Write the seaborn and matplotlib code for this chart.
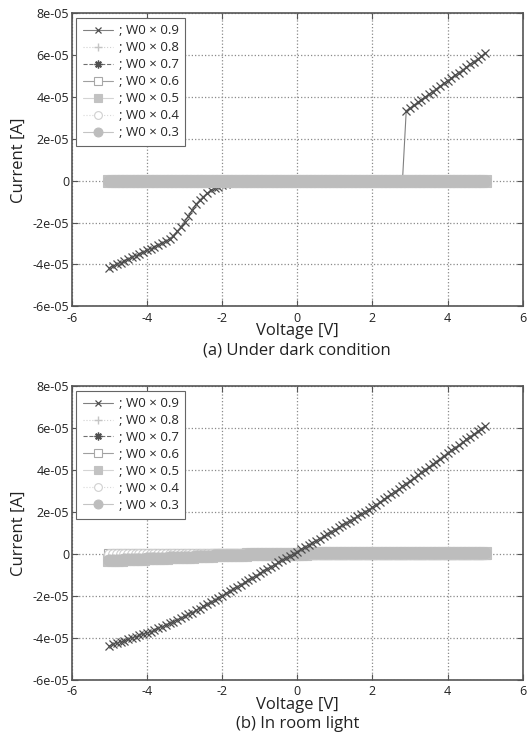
import numpy as np
import matplotlib
matplotlib.use("Agg")
import matplotlib.pyplot as plt
import seaborn as sns

# voltage sweep, -5 V .. 5 V in 0.1 V steps
voltage = np.round(np.arange(-50, 51) / 10.0, 1)

# currents in units of 1e-5 A
# (a) dark: W0 x 0.9 curve
dark_w09 = [
    -4.15, -4.07, -3.99, -3.91, -3.83, -3.75, -3.66, -3.58, -3.50, -3.42,
    -3.33, -3.25, -3.16, -3.07, -2.98, -2.89, -2.79, -2.62, -2.42, -2.20,
    -1.96, -1.71, -1.40, -1.13, -0.93, -0.76, -0.60, -0.46, -0.36, -0.28,
    -0.22, -0.14, -0.09, -0.05, -0.03, -0.01,
    0.0, 0.0, 0.0, 0.0, 0.0, 0.0, 0.0, 0.0, 0.0, 0.0,
    0.0, 0.0, 0.0, 0.0, 0.0, 0.0, 0.0, 0.0, 0.0, 0.0,
    0.0, 0.0, 0.0, 0.0, 0.0, 0.0, 0.0, 0.0, 0.0, 0.0,
    0.0, 0.0, 0.0, 0.0, 0.0, 0.0, 0.0, 0.0, 0.0, 0.0,
    0.0, 0.0, 0.0,
    3.35, 3.48, 3.61, 3.74, 3.87, 4.00, 4.13, 4.26, 4.39, 4.52,
    4.65, 4.78, 4.91, 5.04, 5.17, 5.30, 5.43, 5.56, 5.69, 5.82,
    5.95, 6.08,
]
dark_flat = [0.0] * len(voltage)

# (b) room light: W0 x 0.9 curve
light_w09 = [
    -4.38, -4.32, -4.26, -4.20, -4.14, -4.08, -4.02, -3.95, -3.88, -3.83,
    -3.78, -3.71, -3.63, -3.55, -3.47, -3.39, -3.31, -3.23, -3.15, -3.07,
    -2.98, -2.89, -2.80, -2.70, -2.61, -2.51, -2.41, -2.31, -2.21, -2.11,
    -2.00, -1.89, -1.79, -1.68, -1.57, -1.47, -1.36, -1.25, -1.15, -1.04,
    -0.93, -0.83, -0.72, -0.62, -0.51, -0.41, -0.31, -0.20, -0.10, 0.00,
    0.10,
    0.21, 0.31, 0.42, 0.52, 0.63, 0.73, 0.84, 0.94, 1.05, 1.15,
    1.26, 1.36, 1.47, 1.58, 1.68, 1.79, 1.90, 2.00, 2.11, 2.22,
    2.34, 2.46, 2.59, 2.71, 2.84, 2.97, 3.09, 3.22, 3.35, 3.48,
    3.61, 3.74, 3.88, 4.01, 4.14, 4.27, 4.40, 4.54, 4.67, 4.80,
    4.93, 5.06, 5.19, 5.32, 5.45, 5.58, 5.71, 5.84, 5.97, 6.10,
]
# (b) room light: filled grey markers (W0 x 0.5, 0.3), slight slope
light_small = [
    -0.30, -0.29, -0.28, -0.28, -0.27, -0.26, -0.25, -0.24, -0.24, -0.23,
    -0.22, -0.21, -0.20, -0.20, -0.19, -0.18, -0.17, -0.16, -0.16, -0.15,
    -0.14, -0.13, -0.13, -0.12, -0.11, -0.10, -0.10, -0.09, -0.08, -0.08,
    -0.07, -0.06, -0.06, -0.05, -0.05, -0.04, -0.04, -0.03, -0.03, -0.02,
    -0.02, -0.02, -0.01, -0.01, -0.01, 0.00, 0.00, 0.00, 0.01, 0.01,
    0.01,
    0.01, 0.01, 0.02, 0.02, 0.02, 0.02, 0.02, 0.03, 0.03, 0.03,
    0.03, 0.03, 0.03, 0.03, 0.03, 0.04, 0.04, 0.04, 0.04, 0.04,
    0.04, 0.04, 0.04, 0.04, 0.04, 0.04, 0.04, 0.04, 0.04, 0.04,
    0.04, 0.04, 0.04, 0.04, 0.04, 0.04, 0.04, 0.04, 0.04, 0.04,
    0.04, 0.04, 0.04, 0.04, 0.04, 0.04, 0.04, 0.04, 0.04, 0.04,
]

widths = ["0.9", "0.8", "0.7", "0.6", "0.5", "0.4", "0.3"]
panel_a = {"0.9": dark_w09, "0.8": dark_flat, "0.7": dark_flat, "0.6": dark_flat,
           "0.5": dark_flat, "0.4": dark_flat, "0.3": dark_flat}
panel_b = {"0.9": light_w09, "0.8": dark_flat, "0.7": dark_flat, "0.6": dark_flat,
           "0.5": light_small, "0.4": dark_flat, "0.3": light_small}

x_ticks = [-6, -4, -2, 0, 2, 4, 6]
y_ticks = [-6e-05, -4e-05, -2e-05, 0, 2e-05, 4e-05, 6e-05, 8e-05]
y_tick_labels = ["-6e-05", "-4e-05", "-2e-05", "0", "2e-05", "4e-05", "6e-05", "8e-05"]

styles = {
    "0.9": dict(color="#808080", ls="-", marker="x", mfc="none", mec="#4d4d4d", ms=6, mew=0.9),
    "0.8": dict(color="#d0d0d0", ls=":", marker="+", mfc="none", mec="#c4c4c4", ms=7, mew=1.0),
    "0.7": dict(color="#707070", ls="--", marker=(8, 2, 0), mfc="none", mec="#505050", ms=7, mew=1.0),
    "0.6": dict(color="#a0a0a0", ls="-", marker="s", mfc="white", mec="#a8a8a8", ms=7, mew=0.8),
    "0.5": dict(color="#d4d4d4", ls="-", marker="s", mfc="#c2c2c2", mec="#c2c2c2", ms=8, mew=0.8),
    "0.4": dict(color="#d8d8d8", ls=":", marker="o", mfc="white", mec="#d0d0d0", ms=7, mew=0.8),
    "0.3": dict(color="#c4c4c4", ls="-", marker="o", mfc="#bdbdbd", mec="#bdbdbd", ms=8, mew=0.8),
}

sns.set_style("ticks")
plt.rcParams["font.family"] = ["Open Sans", "DejaVu Sans"]

fig = plt.figure(figsize=(5.28, 7.38), dpi=100)
ax_a = fig.add_axes([0.136, 0.585, 0.854, 0.397])
ax_b = fig.add_axes([0.136, 0.079, 0.854, 0.398])


def draw_panel(ax, data, caption, curve_on_top):
    for w in widths:
        st = styles[w]
        z = 2
        if w == "0.9":
            z = 5 if curve_on_top else 1
        sns.lineplot(x=voltage, y=np.array(data[w]) * 1e-5, ax=ax,
                     label="; W0 \u00d7 " + w, color=st["color"], linestyle=st["ls"],
                     linewidth=0.8, marker=st["marker"], markersize=st["ms"],
                     markerfacecolor=st["mfc"], markeredgecolor=st["mec"],
                     markeredgewidth=st["mew"], zorder=z, sort=False)
    ax.set_xlim(-6, 6)
    ax.set_ylim(-6e-05, 8e-05)
    ax.set_xticks(x_ticks)
    ax.set_xticklabels([str(t) for t in x_ticks])
    ax.set_yticks(y_ticks)
    ax.set_yticklabels(y_tick_labels)
    ax.tick_params(direction="in", length=4, width=0.8, color="#555555",
                   labelsize=9, labelcolor="#222222", pad=2, top=True, right=True)
    ax.tick_params(axis="x", pad=4)
    ax.grid(True, linestyle=":", color="#8a8a8a", linewidth=0.9)
    for sp in ax.spines.values():
        sp.set_color("#555555")
        sp.set_linewidth(1.2)
    ax.set_xlabel("Voltage [V]", fontsize=12, labelpad=-1, color="#222222")
    ax.set_ylabel("Current [A]", fontsize=12, labelpad=4, color="#222222")
    ax.annotate(caption, xy=(0.5, 0), xycoords="axes fraction",
                xytext=(0, -36), textcoords="offset pixels",
                ha="center", va="top", fontsize=12, color="#222222")
    leg = ax.legend(loc="upper left", fontsize=9.5, frameon=True, fancybox=False,
                    framealpha=1, edgecolor="#666666", handlelength=2.3,
                    labelspacing=0.3, borderpad=0.5, borderaxespad=0.35,
                    handletextpad=0.4, markerscale=0.8)
    leg.get_frame().set_linewidth(0.8)


draw_panel(ax_a, panel_a, "(a) Under dark condition", False)
draw_panel(ax_b, panel_b, "(b) In room light", True)

fig.savefig("out.png", dpi=100)
